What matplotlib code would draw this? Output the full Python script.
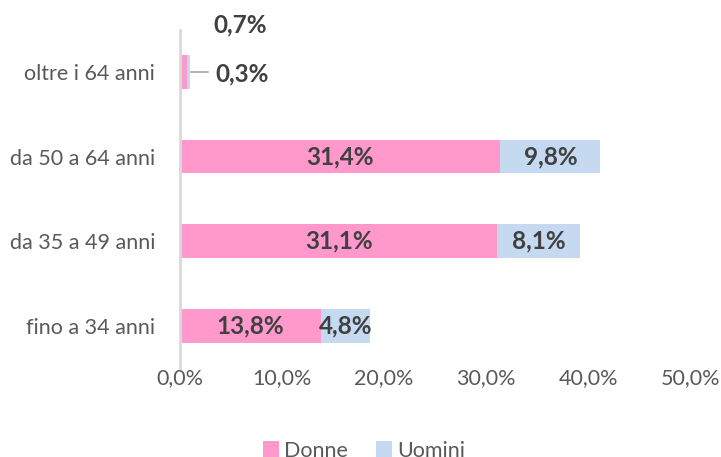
import numpy as np
import matplotlib
matplotlib.use("Agg")
import matplotlib.pyplot as plt

plt.rcParams['font.family'] = ['Lato', 'DejaVu Sans']

categorie = ["fino a 34 anni", "da 35 a 49 anni", "da 50 a 64 anni", "oltre i 64 anni"]
donne = [13.8, 31.1, 31.4, 0.7]
uomini = [4.8, 8.1, 9.8, 0.3]
xticks = [0, 10, 20, 30, 40, 50]

col_donne = "#FF99CC"
col_uomini = "#C5D9F1"
testo = "#404040"

def fmt(v):
    return ("%.1f%%" % v).replace(".", ",")

fig = plt.figure(figsize=(7.21, 4.57), dpi=100)
ax = fig.add_axes([0.2497, 0.195, 0.7074, 0.74])

y = np.arange(len(categorie))
b1 = ax.barh(y, donne, height=0.4, color=col_donne, label="Donne")
b2 = ax.barh(y, uomini, left=donne, height=0.4, color=col_uomini, label="Uomini")

# etichette dentro le barre (tranne l'ultima categoria, troppo piccola)
for i in range(len(categorie) - 1):
    ax.text(donne[i] / 2, y[i], fmt(donne[i]), ha="center", va="center",
            fontsize=17.5, fontweight="bold", color=testo)
    ax.text(donne[i] + uomini[i] / 2, y[i], fmt(uomini[i]), ha="center", va="center",
            fontsize=17.5, fontweight="bold", color=testo)

# oltre i 64 anni: etichette fuori
i = len(categorie) - 1
ax.text(donne[i] + 5.2, y[i] + 0.56, fmt(donne[i]), ha="center", va="center",
        fontsize=17.5, fontweight="bold", color=testo)
ax.plot([donne[i] + uomini[i] + 0.1, donne[i] + uomini[i] + 1.7], [y[i], y[i]],
        color="#a6a6a6", lw=1.2)
ax.text(donne[i] + uomini[i] + 2.5, y[i] - 0.02, fmt(uomini[i]), ha="left", va="center",
        fontsize=17.5, fontweight="bold", color=testo)

ax.set_xlim(0, 50)
ax.set_ylim(-0.5, 3.5)
ax.set_xticks(xticks)
ax.set_xticklabels([fmt(v) for v in xticks])
ax.set_yticks(y)
ax.set_yticklabels(categorie)
ax.tick_params(axis="both", length=0, labelsize=15.5, labelcolor="#595959")
ax.tick_params(axis="y", pad=18)
ax.tick_params(axis="x", pad=0)

for s in ["top", "right", "bottom"]:
    ax.spines[s].set_visible(False)
ax.spines["left"].set_color("#d9d9d9")
ax.spines["left"].set_linewidth(2)

# la legenda nel riferimento è tagliata in basso
fig.legend(handles=[b1, b2], loc="center", bbox_to_anchor=(0.505, 0.014), ncol=2,
           frameon=False, fontsize=15.5, labelcolor="#595959",
           handlelength=0.75, handleheight=0.75, handletextpad=0.25, columnspacing=1.3)

fig.savefig("out.png", dpi=100)
